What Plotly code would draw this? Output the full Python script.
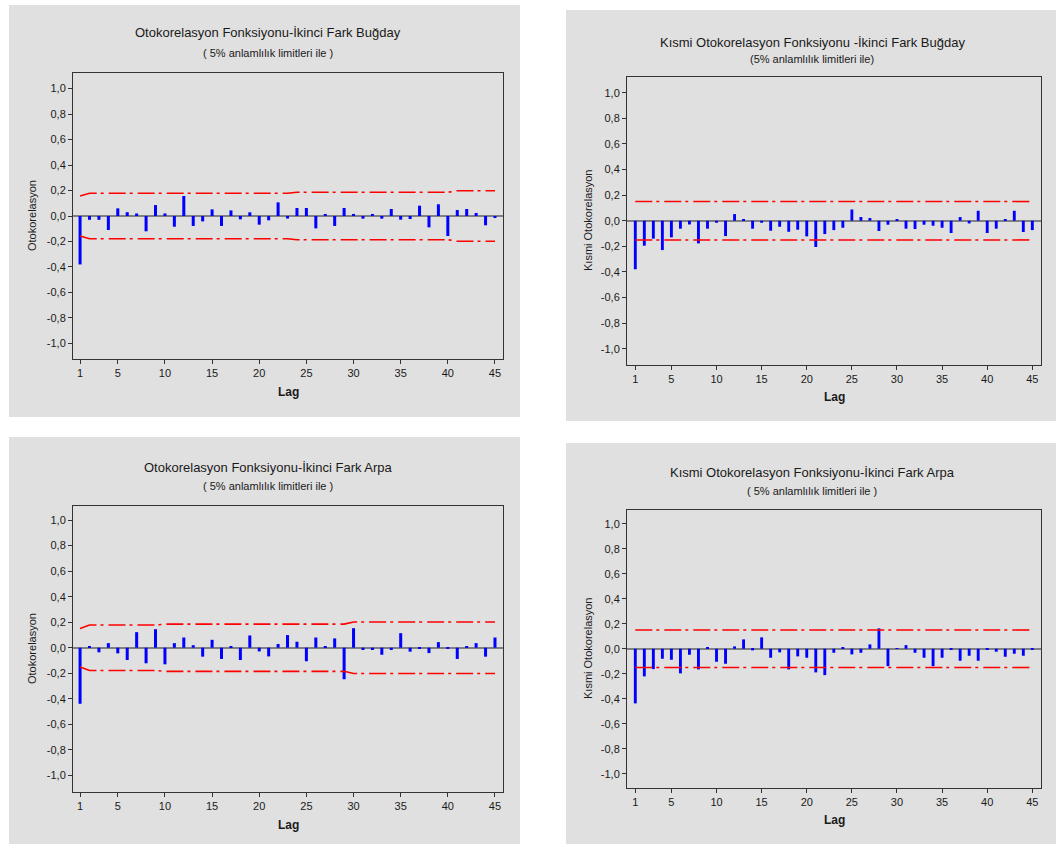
import plotly.graph_objects as go

# ---------------- data ----------------
lags = list(range(1, 46))

acf_wheat = [-0.38, -0.03, -0.03, -0.11, 0.06, 0.03, 0.02, -0.12, 0.086, 0.02,
             -0.084, 0.157, -0.078, -0.042, 0.052, -0.078, 0.044, -0.026, 0.029, -0.068,
             -0.034, 0.107, -0.02, 0.063, 0.063, -0.097, 0.016, -0.078, 0.063, 0.016,
             -0.021, 0.016, -0.021, 0.055, -0.029, -0.024, 0.081, -0.089, 0.092, -0.157,
             0.047, 0.055, 0.024, -0.073, -0.016]

pacf_wheat = [-0.379, -0.195, -0.14, -0.229, -0.13, -0.062, -0.029, -0.177, -0.062, -0.016,
              -0.12, 0.052, 0.01, -0.062, -0.016, -0.078, -0.047, -0.086, -0.07, -0.122,
              -0.205, -0.104, -0.073, -0.055, 0.088, 0.029, 0.021, -0.08, -0.031, 0.013,
              -0.062, -0.065, -0.031, -0.039, -0.055, -0.096, 0.029, -0.021, 0.078, -0.096,
              -0.062, 0.013, 0.078, -0.088, -0.073]

acf_barley = [-0.439, 0.013, -0.036, 0.036, -0.044, -0.096, 0.122, -0.122, 0.145, -0.13,
              0.036, 0.08, 0.02, -0.07, 0.062, -0.088, 0.013, -0.096, 0.096, -0.029,
              -0.068, 0.029, 0.099, 0.047, -0.106, 0.08, 0.008, 0.073, -0.247, 0.153,
              -0.018, -0.018, -0.055, -0.018, 0.114, -0.031, -0.01, -0.042, 0.044, -0.01,
              -0.088, 0.01, 0.036, -0.07, 0.08]

pacf_barley = [-0.437, -0.221, -0.163, -0.08, -0.088, -0.197, -0.048, -0.165, 0.011, -0.104,
               -0.12, 0.019, 0.075, -0.013, 0.091, -0.072, -0.029, -0.165, -0.061, -0.072,
               -0.189, -0.211, -0.032, 0.011, -0.045, -0.032, 0.035, 0.163, -0.139, 0.005,
               0.029, -0.032, -0.072, -0.139, -0.072, -0.008, -0.096, -0.056, -0.096, -0.008,
               -0.024, -0.064, -0.04, -0.056, -0.008]

# 5% significance limits (break points)
acf_wheat_lim_lags = [1, 2, 23, 24, 40, 41, 45]
acf_wheat_lim_vals = [0.157, 0.178, 0.178, 0.186, 0.186, 0.198, 0.198]
acf_barley_lim_lags = [1, 2, 9, 10, 29, 30, 45]
acf_barley_lim_vals = [0.151, 0.178, 0.178, 0.185, 0.185, 0.202, 0.202]
pacf_wheat_lim_lags = [1, 45]
pacf_wheat_lim_vals = [0.15, 0.15]
pacf_barley_lim_lags = [1, 45]
pacf_barley_lim_vals = [0.15, 0.15]

ytick_vals = [-1.0, -0.8, -0.6, -0.4, -0.2, 0.0, 0.2, 0.4, 0.6, 0.8, 1.0]
ytick_text = ["-1,0", "-0,8", "-0,6", "-0,4", "-0,2", "0,0", "0,2", "0,4", "0,6", "0,8", "1,0"]
xtick_vals = [1, 5, 10, 15, 20, 25, 30, 35, 40, 45]

titles = ["Otokorelasyon Fonksiyonu-İkinci Fark Buğday",
          "Kısmi Otokorelasyon Fonksiyonu -İkinci Fark Buğday",
          "Otokorelasyon Fonksiyonu-İkinci Fark Arpa",
          "Kısmi Otokorelasyon Fonksiyonu-İkinci Fark Arpa"]
subtitles = ["( 5% anlamlılık limitleri ile )",
             "(5% anlamlılık limitleri ile)",
             "( 5% anlamlılık limitleri ile )",
             "( 5% anlamlılık limitleri ile )"]
ytitles = ["Otokorelasyon", "Kısmi Otokorelasyon", "Otokorelasyon", "Kısmi Otokorelasyon"]
xtitle = "Lag"

# ---------------- layout geometry (pixels) ----------------
W, H = 1056, 844
FONT = "Liberation Sans"
TXT = "#1a1a1a"

panels = [
    # gray box (x0,y0,x1,y1), plot box (x0,y0,x1,y1), xrange, yrange, title y, subtitle y, title cx, ytitle x, lag y
    dict(bg=(9, 5, 520, 417), plot=(73, 73, 503, 359), xr=[0.25, 45.85], yr=[-1.122, 1.122],
         ty=33, sy=53, cx=268, ytx=32, lagy=392),
    dict(bg=(566, 10, 1056, 421), plot=(627, 77, 1041, 365), xr=[0.08, 45.96], yr=[-1.127, 1.123],
         ty=42, sy=59, cx=812, ytx=588, lagy=397),
    dict(bg=(9, 437, 520, 844), plot=(73, 506, 503, 792), xr=[0.25, 45.85], yr=[-1.13, 1.11],
         ty=468, sy=486, cx=268, ytx=32, lagy=825),
    dict(bg=(566, 443, 1056, 844), plot=(627, 510, 1041, 788), xr=[0.08, 45.96], yr=[-1.114, 1.11],
         ty=472, sy=491, cx=812, ytx=588, lagy=820),
]

series = [acf_wheat, pacf_wheat, acf_barley, pacf_barley]
limits = [(acf_wheat_lim_lags, acf_wheat_lim_vals), (pacf_wheat_lim_lags, pacf_wheat_lim_vals),
          (acf_barley_lim_lags, acf_barley_lim_vals), (pacf_barley_lim_lags, pacf_barley_lim_vals)]


def px(x):
    return x / W


def py(y):
    return 1 - y / H


fig = go.Figure()
shapes = []
annotations = []
layout_axes = {}

for i, (p, vals, lim) in enumerate(zip(panels, series, limits), start=1):
    xa = "x" if i == 1 else f"x{i}"
    ya = "y" if i == 1 else f"y{i}"
    bx0, by0, bx1, by1 = p["bg"]
    shapes.append(dict(type="rect", xref="paper", yref="paper", x0=px(bx0), x1=px(bx1),
                       y0=py(by1), y1=py(by0), fillcolor="#e0e0e0", line=dict(width=0), layer="below"))
    x0, y0, x1, y1 = p["plot"]

    fig.add_trace(go.Bar(x=lags, y=vals, width=0.32, marker=dict(color="#0000ff", line=dict(width=0)),
                         xaxis=xa, yaxis=ya, showlegend=False, hoverinfo="x+y"))
    ll, lv = lim
    for sgn in (1, -1):
        fig.add_trace(go.Scatter(x=ll, y=[sgn * v for v in lv], mode="lines",
                                 line=dict(color="#ff0000", width=1.6, dash="17px,4px,3px,5px"),
                                 xaxis=xa, yaxis=ya, showlegend=False, hoverinfo="skip"))

    xkey = "xaxis" if i == 1 else f"xaxis{i}"
    ykey = "yaxis" if i == 1 else f"yaxis{i}"
    layout_axes[xkey] = dict(domain=[px(x0), px(x1)], range=p["xr"], anchor=ya,
                             tickmode="array", tickvals=xtick_vals, ticks="outside", ticklen=4,
                             tickcolor="#333", tickfont=dict(family=FONT, size=11, color=TXT),
                             showgrid=False, zeroline=False, showline=True, mirror=True,
                             linecolor="#333", linewidth=1)
    layout_axes[ykey] = dict(domain=[py(y1), py(y0)], range=p["yr"], anchor=xa,
                             tickmode="array", tickvals=ytick_vals, ticktext=ytick_text,
                             ticks="outside", ticklen=4, tickcolor="#333",
                             tickfont=dict(family=FONT, size=11, color=TXT),
                             showgrid=False, zeroline=True, zerolinecolor="#808080", zerolinewidth=2,
                             showline=True, mirror=True, linecolor="#333", linewidth=1)

    annotations.append(dict(text=titles[i - 1], x=px(p["cx"]), y=py(p["ty"]), xref="paper", yref="paper",
                            showarrow=False, xanchor="center", yanchor="middle",
                            font=dict(family=FONT, size=13, color=TXT)))
    annotations.append(dict(text=subtitles[i - 1], x=px(p["cx"]), y=py(p["sy"]), xref="paper", yref="paper",
                            showarrow=False, xanchor="center", yanchor="middle",
                            font=dict(family=FONT, size=11, color=TXT)))
    annotations.append(dict(text=ytitles[i - 1], x=px(p["ytx"]), y=py((y0 + y1) / 2), xref="paper",
                            yref="paper", showarrow=False, textangle=-90, xanchor="center",
                            yanchor="middle", font=dict(family=FONT, size=11, color=TXT)))
    annotations.append(dict(text="<b>" + xtitle + "</b>", x=px((x0 + x1) / 2), y=py(p["lagy"]),
                            xref="paper", yref="paper", showarrow=False, xanchor="center",
                            yanchor="middle", font=dict(family=FONT, size=12, color=TXT)))

fig.update_layout(width=W, height=H, margin=dict(l=0, r=0, t=0, b=0), paper_bgcolor="white",
                  plot_bgcolor="white", shapes=shapes, annotations=annotations, showlegend=False,
                  **layout_axes)

fig.write_html("out.html")
